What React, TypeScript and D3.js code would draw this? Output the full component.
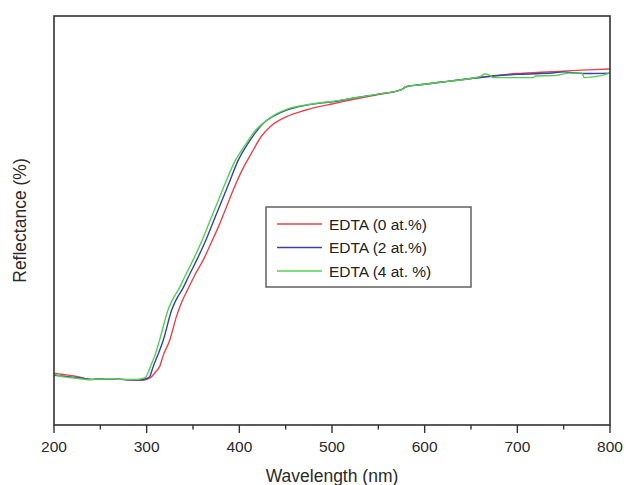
import { useEffect, useRef } from 'react';
import * as d3 from 'd3';

const width = 627;
const height = 485;
const margin = { top: 16, right: 17, bottom: 60, left: 54 };

// wavelength (nm) / reflectance (%)
const wlRed = [200, 210, 220, 230, 240, 250, 260, 270, 280, 290, 296, 300, 304, 310, 314, 318, 325, 332, 338, 344, 352, 361, 370, 378, 386, 395, 403, 411, 415, 424, 433, 451, 470, 487, 500, 525, 550, 575, 580, 600, 625, 650, 675, 700, 725, 750, 775, 800];
const rRed = [13.1, 12.8, 12.5, 12.0, 11.6, 11.7, 11.6, 11.7, 11.5, 11.4, 11.4, 11.6, 12.0, 13.5, 14.7, 17.5, 21.2, 26.8, 30.5, 33.3, 37, 40.6, 45, 49, 53.5, 58.5, 62.5, 65.8, 67.4, 70.8, 73.0, 75.5, 77.0, 78.0, 78.6, 79.8, 80.9, 82.1, 82.8, 83.4, 84.1, 84.8, 85.5, 86.0, 86.3, 86.6, 86.9, 87.1];

const wlBlue = [200, 210, 220, 230, 240, 250, 260, 270, 280, 290, 298, 303, 307, 312, 318, 327, 333, 338, 346, 354, 363, 372, 381, 390, 399, 408, 417, 426, 440, 451, 470, 487, 500, 525, 550, 575, 580, 600, 625, 650, 675, 700, 725, 740, 750, 760, 775, 800];
const rBlue = [12.6, 12.4, 12.1, 11.9, 11.6, 11.7, 11.6, 11.6, 11.5, 11.5, 11.7, 12.2, 14.7, 17.5, 21.2, 28.5, 31.5, 33.3, 37, 40.6, 45, 50, 55, 60, 65, 68.5, 71.5, 73.9, 76, 77.1, 78.2, 78.8, 79.1, 80.1, 81.0, 82.1, 82.8, 83.4, 84.1, 84.8, 85.4, 85.8, 86.0, 86.2, 86.4, 86.2, 86.0, 86.1];

const wlGreen = [200, 210, 220, 230, 240, 250, 260, 270, 280, 290, 295, 299, 304, 309, 314, 323, 329, 334, 342, 350, 359, 368, 377, 386, 396, 406, 416, 426, 440, 451, 470, 487, 500, 525, 550, 575, 580, 600, 625, 650, 660, 665, 670, 674, 700, 717, 720, 740, 756, 770, 772, 790, 800];
const rGreen = [12.9, 12.2, 12.0, 11.7, 11.5, 11.7, 11.7, 11.6, 11.6, 11.6, 11.8, 12.2, 14.7, 17.5, 21.2, 28.5, 31.5, 33.3, 37, 40.6, 45, 50, 55, 60, 65, 68.5, 71.8, 74.0, 76.2, 77.3, 78.3, 78.9, 79.2, 80.1, 81.0, 82.1, 82.8, 83.4, 84.1, 84.8, 85.3, 85.9, 85.6, 85.0, 85.0, 85.0, 85.4, 85.5, 86.1, 86.1, 85.0, 85.5, 86.1];

const seriesNames = ['EDTA (0 at.%)', 'EDTA (2 at.%)', 'EDTA (4 at. %)'];
const seriesColors = ['#e4454a', '#3b40a8', '#4fd24f'];
const xTicks = [200, 300, 400, 500, 600, 700, 800];

export default function App() {
  const ref = useRef<SVGSVGElement>(null);

  useEffect(() => {
    const svg = d3.select(ref.current);
    svg.selectAll('*').remove();
    const font = 'Liberation Sans, Arial, sans-serif';
    const iw = width - margin.left - margin.right;
    const ih = height - margin.top - margin.bottom;

    const x = d3.scaleLinear().domain([200, 800]).range([0, iw]);
    const y = d3.scaleLinear().domain([0.5, 100]).range([ih, 0]);

    const g = svg.append('g').attr('transform', `translate(${margin.left},${margin.top})`);

    const data = [
      wlRed.map((w, i) => [w, rRed[i]]),
      wlBlue.map((w, i) => [w, rBlue[i]]),
      wlGreen.map((w, i) => [w, rGreen[i]]),
    ];

    const line = d3
      .line<number[]>()
      .x((d) => x(d[0]))
      .y((d) => y(d[1]))
      .curve(d3.curveMonotoneX);

    g.selectAll('path.series')
      .data(data)
      .join('path')
      .attr('class', 'series')
      .attr('d', (d) => line(d))
      .attr('fill', 'none')
      .attr('stroke', (d, i) => seriesColors[i])
      .attr('stroke-width', 1.4);

    // frame
    g.append('rect')
      .attr('width', iw)
      .attr('height', ih)
      .attr('fill', 'none')
      .attr('stroke', '#333')
      .attr('stroke-width', 1.6);

    // bottom axis: major + minor ticks
    const xAxis = g.append('g').attr('transform', `translate(0,${ih})`);
    xAxis
      .selectAll('line.minor')
      .data(d3.range(250, 800, 100))
      .join('line')
      .attr('x1', (d) => x(d))
      .attr('x2', (d) => x(d))
      .attr('y1', 0)
      .attr('y2', 4.5)
      .attr('stroke', '#333')
      .attr('stroke-width', 1.4);
    xAxis
      .selectAll('line.major')
      .data(xTicks)
      .join('line')
      .attr('x1', (d) => x(d))
      .attr('x2', (d) => x(d))
      .attr('y1', 0)
      .attr('y2', 8)
      .attr('stroke', '#333')
      .attr('stroke-width', 1.4);
    xAxis
      .selectAll('text')
      .data(xTicks)
      .join('text')
      .attr('x', (d) => x(d))
      .attr('y', 27)
      .attr('text-anchor', 'middle')
      .attr('font-family', font)
      .attr('font-size', 15.5)
      .attr('fill', '#2a2a2a')
      .text((d) => d);

    svg
      .append('text')
      .attr('x', margin.left + iw / 2)
      .attr('y', height - 3)
      .attr('text-anchor', 'middle')
      .attr('font-family', font)
      .attr('font-size', 17.5)
      .attr('fill', '#2a2a2a')
      .text('Wavelength (nm)');

    svg
      .append('text')
      .attr('transform', `translate(26,${margin.top + ih / 2}) rotate(-90)`)
      .attr('text-anchor', 'middle')
      .attr('font-family', font)
      .attr('font-size', 17.5)
      .attr('fill', '#2a2a2a')
      .text('Reflectance (%)');

    // legend
    const lg = svg.append('g').attr('transform', 'translate(266,207)');
    lg.append('rect')
      .attr('width', 205)
      .attr('height', 80)
      .attr('fill', 'white')
      .attr('stroke', '#555')
      .attr('stroke-width', 1.4);
    seriesNames.forEach((name, i) => {
      const yy = 17 + i * 23.5;
      lg.append('line')
        .attr('x1', 11)
        .attr('x2', 56)
        .attr('y1', yy)
        .attr('y2', yy)
        .attr('stroke', seriesColors[i])
        .attr('stroke-width', 1.4);
      lg.append('text')
        .attr('x', 63)
        .attr('y', yy + 5.5)
        .attr('font-family', font)
        .attr('font-size', 15.5)
        .attr('fill', '#222')
        .text(name);
    });
  }, []);

  return (
    <svg
      ref={ref}
      width={width}
      height={height}
      style={{ position: 'absolute', left: 0, top: 0, background: 'white' }}
    />
  );
}
